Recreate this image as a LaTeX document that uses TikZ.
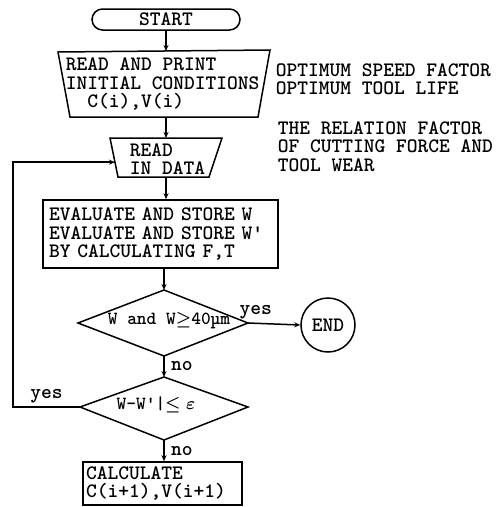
\documentclass[tikz,border=0pt]{standalone}
\usepackage{amsmath}
\usepackage{fontspec}
\newfontfamily\typew{lmmonolt10-bold.otf}
\usetikzlibrary{shapes.misc,arrows.meta,calc}

\begin{document}
\begin{tikzpicture}[
    x=1pt, y=-1pt,
    line width=1.5pt,
    every node/.style={font=\fontsize{20.5}{18.5}\selectfont\typew},
    box/.style={draw, rectangle, align=left, inner sep=0pt},
    flow/.style={-{Stealth[length=6pt,width=5pt]}},
    note/.style={anchor=west, align=left, inner sep=0pt},
    test/.style={font=\fontsize{18.5}{18.5}\selectfont\typew, inner sep=0pt}
]
    \useasboundingbox (0,0) rectangle (500,507);

    % Start terminal
    \node[draw, rounded rectangle, minimum width=148pt, minimum height=21pt,
          inner sep=0pt] (start) at (166,19.5) {START};

    % Manual input: initial conditions
    \coordinate (ia) at (58,52);
    \coordinate (ib) at (270,50);
    \coordinate (ic) at (258,117);
    \coordinate (id) at (70,117);
    \draw (ia) -- (ib) -- (ic) -- (id) -- cycle;
    \node[note] (init) at (65,84) {READ AND PRINT\\INITIAL CONDITIONS\\\hspace*{21.6pt}C(i),V(i)};
    \coordinate (init-n) at (166,51);
    \coordinate (init-s) at (166,117);

    % Manual input: read in data
    \coordinate (ra) at (110,138);
    \coordinate (rb) at (222,138);
    \coordinate (rc) at (209,177);
    \coordinate (rd) at (118,177);
    \draw (ra) -- (rb) -- (rc) -- (rd) -- cycle;
    \node[note] (read) at (129,159) {READ\\IN DATA};
    \coordinate (read-n) at (166,138);
    \coordinate (read-s) at (166,177);
    \coordinate (read-w) at ($(ra)!0.62!(rd)$);

    % Evaluation block
    \node[box, minimum width=235pt, minimum height=68pt, text width=223pt]
        (eval) at (160.5,234) {EVALUATE AND STORE W\\EVALUATE AND STORE W'\\BY CALCULATING F,T};

    % First decision
    \coordinate (d1w) at (78,323);
    \coordinate (d1e) at (248,323);
    \coordinate (d1n) at (164,290);
    \coordinate (d1s) at (164,356);
    \draw (d1w) -- (d1n) -- (d1e) -- (d1s) -- cycle;
    \node[test] (wear) at (169,321) {W and W$\boldsymbol{\geq}$40µm};

    % End terminal
    \node[draw, circle, minimum size=54pt, inner sep=0pt] (end) at (328,325) {END};

    % Second decision
    \coordinate (d2w) at (80,407);
    \coordinate (d2e) at (248,407);
    \coordinate (d2n) at (164,377);
    \coordinate (d2s) at (164,440);
    \draw (d2w) -- (d2n) -- (d2e) -- (d2s) -- cycle;
    \node[test] (conv) at (156,405) {W-W'|$\boldsymbol{\leq\varepsilon}$};

    % Calculation block
    \node[box, minimum width=159pt, minimum height=43pt, text width=153pt]
        (calc) at (162.5,483.5) {CALCULATE\\C(i+1),V(i+1)};

    % Connectors
    \draw[flow] (start.south) -- (init-n);
    \draw[flow] (init-s) -- (read-n);
    \draw[flow] (read-s) -- (eval.north -| read-s);
    \draw[flow] (eval.south -| d1n) -- (d1n);
    \draw[flow] (d1e) -- node[above, pos=0.15] {yes} (end.west);
    \draw[flow] (d1s) -- node[right, xshift=3pt] {no} (d2n);
    \draw[flow] (d2s) -- node[right, xshift=3pt] {no} (calc.north -| d2s);
    \draw[flow] (d2w) -- node[above, pos=0.5] {yes} (13,407) |- (read-w);

    % Side notes
    \node[note] (speed) at (275,79) {OPTIMUM SPEED FACTOR\\OPTIMUM TOOL LIFE};
    \node[note] (relation) at (277,146.5) {THE RELATION FACTOR\\OF CUTTING FORCE AND\\TOOL WEAR};

\end{tikzpicture}
\end{document}
